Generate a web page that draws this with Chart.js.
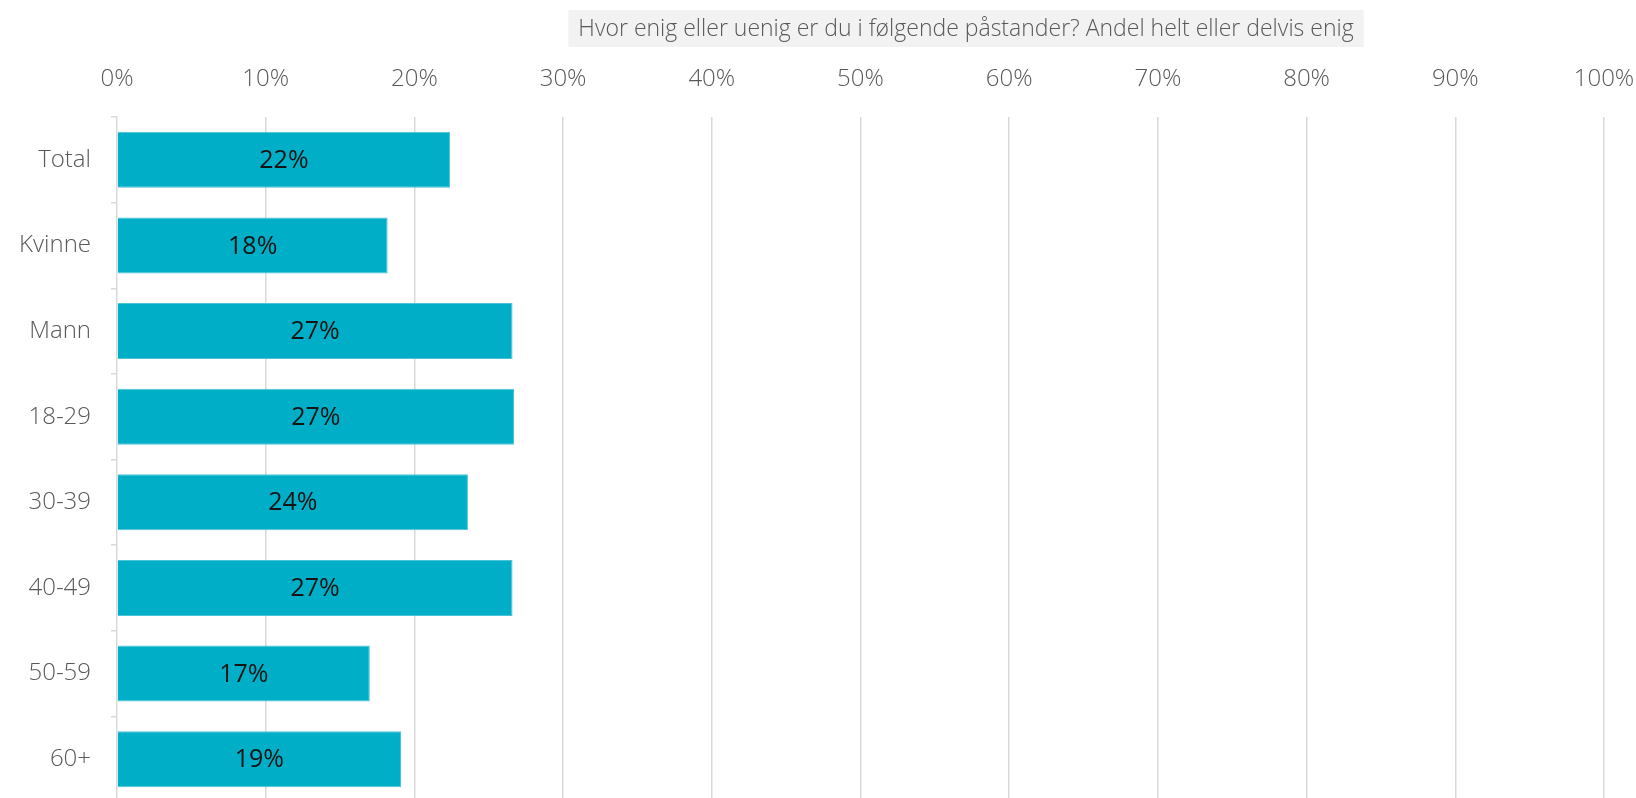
<!DOCTYPE html>
<html lang="no">
  <head>
    <meta charset="UTF-8">
    <title>Andel helt eller delvis enig</title>
    <script src="https://cdn.jsdelivr.net/npm/chart.js"></script>
    <style>
      html, body { margin: 0; padding: 0; background: #fff; overflow: hidden; }
      canvas { display: block; }
    </style>
  </head>
  <body>
    <!-- a bit taller than the window: the last category is cut at the bottom edge -->
    <canvas id="grafico" width="1636" height="802"></canvas>

    <script>
      // data
      const kategorier = ['Total', 'Kvinne', 'Mann', '18-29', '30-39', '40-49', '50-59', '60+']
      const andelEnig = [22.4, 18.2, 26.6, 26.7, 23.6, 26.6, 17.0, 19.1]
      const etiketter = ['22%', '18%', '27%', '27%', '24%', '27%', '17%', '19%']
      const tittel = 'Hvor enig eller uenig er du i følgende påstander? Andel helt eller delvis enig'

      const fonte = '"Open Sans", sans-serif'
      const cinza = '#595959'

      // title with grey box, drawn above the top axis
      const tittelPlugin = {
        id: 'tittelBoks',
        afterDraw(chart) {
          const c = chart.ctx
          c.save()
          c.font = '300 23px ' + fonte
          const w = c.measureText(tittel).width
          const cx = 966
          c.fillStyle = '#F2F2F2'
          c.fillRect(cx - w / 2 - 10, 10, w + 20, 37)
          c.fillStyle = cinza
          c.textAlign = 'center'
          c.textBaseline = 'middle'
          c.fillText(tittel, cx, 29)
          c.restore()
        }
      }

      // value labels centred in each bar
      const etikettPlugin = {
        id: 'etiketter',
        afterDatasetsDraw(chart) {
          const c = chart.ctx
          const meta = chart.getDatasetMeta(0)
          c.save()
          c.font = '25px ' + fonte
          c.fillStyle = '#141414'
          c.textAlign = 'center'
          c.textBaseline = 'middle'
          meta.data.forEach((bar, i) => {
            c.fillText(etiketter[i], (bar.x + bar.base) / 2, bar.y + 1)
          })
          c.restore()
        }
      }

      const ctx = document.getElementById('grafico')

      new Chart(ctx, {
        type: 'bar',
        data: {
          labels: kategorier,
          datasets: [{
            data: andelEnig,
            backgroundColor: '#00AEC7',
            borderColor: '#4CC3D6',
            borderWidth: 1,
            categoryPercentage: 1,
            barPercentage: 0.655
          }]
        },
        options: {
          indexAxis: 'y',
          responsive: false,
          animation: false,
          layout: { padding: { top: 0, right: 32, bottom: 0, left: 0 } },
          plugins: {
            legend: { display: false },
            tooltip: { enabled: false }
          },
          scales: {
            x: {
              position: 'top',
              min: 0,
              max: 100,
              ticks: {
                stepSize: 10,
                padding: 23,
                color: cinza,
                font: { family: fonte, size: 24, weight: 300 },
                callback: v => v + '%'
              },
              grid: { color: '#D9D9D9', lineWidth: 1.5, drawTicks: false },
              border: { display: false },
              afterFit: s => { s.height = 117; s.paddingLeft = 0; s.paddingRight = 0 }
            },
            y: {
              ticks: {
                padding: 20,
                color: cinza,
                font: { family: fonte, size: 24, weight: 300 }
              },
              grid: {
                offset: true,
                drawOnChartArea: false,
                drawTicks: true,
                tickLength: 6,
                color: '#D9D9D9',
                lineWidth: 1.5
              },
              border: { display: false },
              afterFit: s => { s.width = 117; s.paddingTop = 0; s.paddingBottom = 0 }
            }
          }
        },
        plugins: [tittelPlugin, etikettPlugin]
      })
    </script>
  </body>
</html>
